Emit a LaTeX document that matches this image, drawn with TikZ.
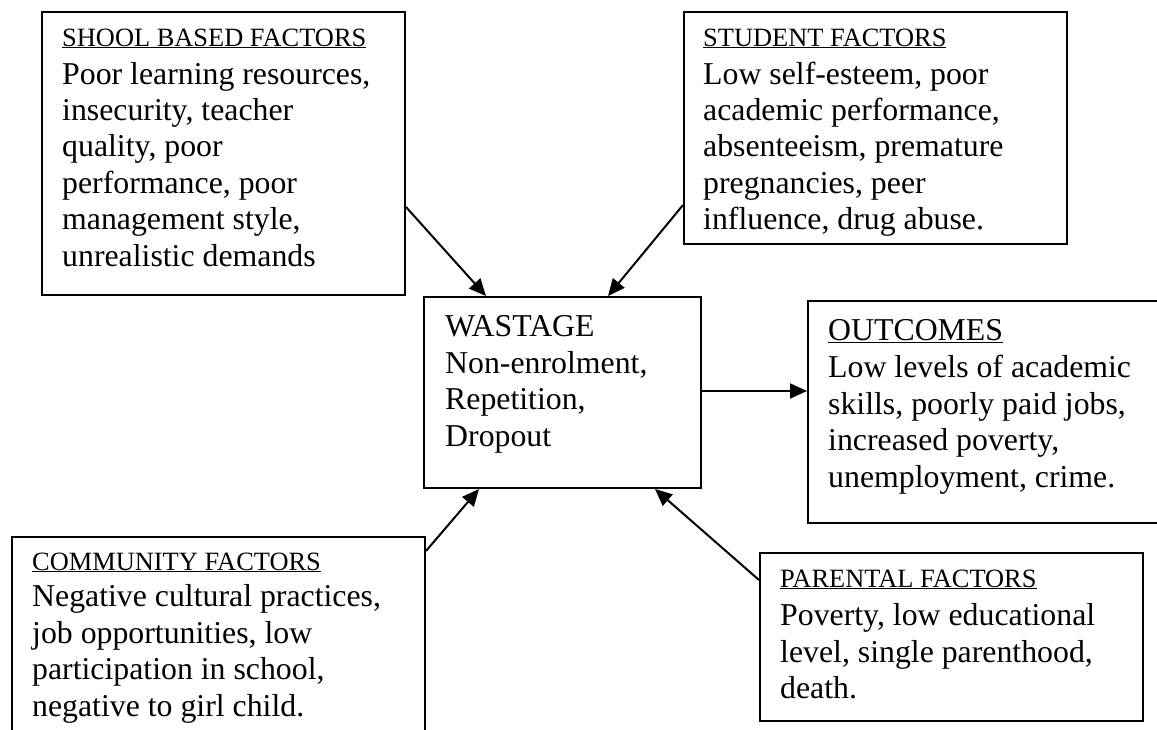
\documentclass[tikz,border=0pt]{standalone}
\usepackage{fontspec}
\setmainfont{Liberation Serif}
\usetikzlibrary{arrows.meta,calc}
\begin{document}
\begin{tikzpicture}[x=1pt,y=-1pt,
  box/.style={draw=black,line width=2pt,rectangle,inner sep=0pt,anchor=north west},
  ttl/.style={anchor=base west,inner sep=0pt,font=\fontsize{26.4}{30}\selectfont},
  bodytext/.style={anchor=base west,inner sep=0pt,align=left,font=\fontsize{31.8}{36.4}\selectfont},
  arr/.style={line width=2pt,-{Triangle[length=17pt,width=15pt]}}]
\useasboundingbox (0,0) rectangle (1157,729);
\clip (0,0) rectangle (1157,729);
% boxes
\node[box,minimum width=363pt,minimum height=283pt] (school) at (41,11) {};
\node[box,minimum width=383pt,minimum height=232pt] (student) at (683,11) {};
\node[box,minimum width=277pt,minimum height=191pt] (wastage) at (423,296) {};
\node[box,minimum width=370pt,minimum height=222pt] (outcomes) at (807,300) {};
\node[box,minimum width=413pt,minimum height=220pt] (community) at (11,536) {};
\node[box,minimum width=383pt,minimum height=168pt] (parental) at (759,552) {};
% texts (base west = baseline of the last line)
\node[ttl] (schoolT) at (62,46) {\underline{SHOOL BASED FACTORS}};
\node[bodytext] (schoolB) at (62,266) {Poor learning resources,\\insecurity, teacher\\quality, poor\\performance, poor\\management style,\\unrealistic demands};
\node[ttl] (studentT) at (703,46) {\underline{STUDENT FACTORS}};
\node[bodytext] (studentB) at (703,229.6) {Low self-esteem, poor\\academic performance,\\absenteeism, premature\\pregnancies, peer\\influence, drug abuse.};
\node[bodytext] (wastageB) at (445,446) {WASTAGE\\Non-enrolment,\\Repetition,\\Dropout};
\node[bodytext] (outcomesT) at (828,340) {\underline{OUTCOMES}};
\node[bodytext] (outcomesB) at (828,487) {Low levels of academic\\skills, poorly paid jobs,\\increased poverty,\\unemployment, crime.};
\node[ttl] (communityT) at (32,570) {\underline{COMMUNITY FACTORS}};
\node[bodytext] (communityB) at (32,716) {Negative cultural practices,\\job opportunities, low\\participation in school,\\negative to girl child.};
\node[ttl] (parentalT) at (780,587) {\underline{PARENTAL FACTORS}};
\node[bodytext] (parentalB) at (780,698.5) {Poverty, low educational\\level, single parenthood,\\death.};
% connector end points
\coordinate (s1) at ($(school.north east)+(0,196)$);
\coordinate (w1) at ($(wastage.north west)+(63,0)$);
\coordinate (s2) at ($(student.north west)+(0,194)$);
\coordinate (w2) at ($(wastage.north west)+(185,0)$);
\coordinate (c1) at ($(community.north east)+(0,15)$);
\coordinate (w3) at ($(wastage.south west)+(56,0)$);
\coordinate (p1) at ($(parental.north west)+(0,28)$);
\coordinate (w4) at ($(wastage.south west)+(232,0)$);
\coordinate (w5) at ($(wastage.north east)+(0,95)$);
\coordinate (o1) at ($(outcomes.north west)+(0,91)$);
% connectors
\draw[arr] (s1) -- (w1);
\draw[arr] (s2) -- (w2);
\draw[arr] (c1) -- (w3);
\draw[arr] (p1) -- (w4);
\draw[arr] (w5) -- (o1);
\end{tikzpicture}
\end{document}
